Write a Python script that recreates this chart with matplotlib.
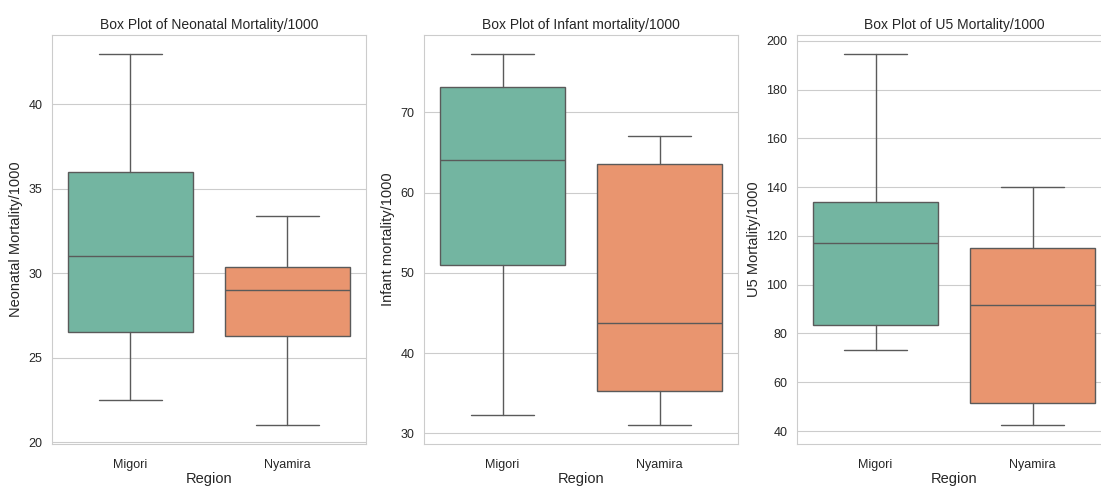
import matplotlib
matplotlib.use("Agg")
import matplotlib.pyplot as plt
import seaborn as sns

# Box statistics (whislo, q1, median, q3, whishi)
regions = ["Migori", "Nyamira"]
colors = ["#73b5a1", "#e9956f"]

neonatal_lo = [22.5, 21.0]
neonatal_q1 = [26.5, 26.3]
neonatal_med = [31.0, 29.0]
neonatal_q3 = [36.0, 30.4]
neonatal_hi = [43.0, 33.4]

infant_lo = [32.3, 31.0]
infant_q1 = [51.0, 35.3]
infant_med = [64.1, 43.8]
infant_q3 = [73.1, 63.6]
infant_hi = [77.3, 67.0]

u5_lo = [73.3, 42.3]
u5_q1 = [83.3, 51.5]
u5_med = [117.2, 91.7]
u5_q3 = [134.0, 115.0]
u5_hi = [194.8, 140.0]

sns.set_style("whitegrid")
plt.rcParams["font.family"] = ["Liberation Sans", "DejaVu Sans"]
plt.rcParams["axes.edgecolor"] = "#cccccc"
plt.rcParams["grid.color"] = "#cccccc"

panels = [
    ("Neonatal Mortality/1000", neonatal_lo, neonatal_q1, neonatal_med, neonatal_q3, neonatal_hi),
    ("Infant mortality/1000", infant_lo, infant_q1, infant_med, infant_q3, infant_hi),
    ("U5 Mortality/1000", u5_lo, u5_q1, u5_med, u5_q3, u5_hi),
]

fig = plt.figure(figsize=(11.01, 4.87), dpi=100)
lefts = [52, 424, 797]
line = "#5a5a5a"

for left, (name, lo, q1, med, q3, hi) in zip(lefts, panels):
    ax = fig.add_axes([left / 1101, 43 / 487, 314 / 1101, 409 / 487])
    stats = []
    for i in range(len(regions)):
        stats.append({"whislo": lo[i], "q1": q1[i], "med": med[i],
                      "q3": q3[i], "whishi": hi[i], "fliers": []})
    bp = ax.bxp(stats, positions=range(len(regions)), widths=0.8,
                patch_artist=True, showfliers=False,
                boxprops=dict(edgecolor=line, linewidth=1.0),
                medianprops=dict(color=line, linewidth=1.0),
                whiskerprops=dict(color=line, linewidth=1.0),
                capprops=dict(color=line, linewidth=1.0))
    for patch, c in zip(bp["boxes"], colors):
        patch.set_facecolor(c)
    for cap in bp["caps"]:
        x = cap.get_xdata()
        m = (x[0] + x[1]) / 2
        cap.set_xdata([m - 0.2, m + 0.2])
    ax.set_xlim(-0.5, 1.5)
    ax.set_xticks(range(len(regions)))
    ax.set_xticklabels(regions)
    ax.margins(y=0.05)
    ax.set_title("Box Plot of " + name, fontsize=10, pad=4)
    ax.set_xlabel("Region", fontsize=10.5, labelpad=1)
    ax.set_ylabel(name, fontsize=10.5)
    ax.tick_params(labelsize=9)
    ax.tick_params(axis="x", pad=7)
    ax.grid(axis="x", visible=False)

fig.savefig("out.png", dpi=100)
